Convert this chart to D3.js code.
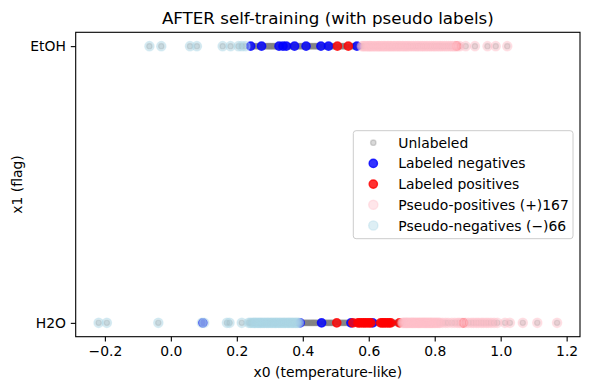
<!DOCTYPE html>
<html><head><meta charset="utf-8">
<script src="https://cdn.jsdelivr.net/npm/d3@7/dist/d3.min.js"></script>
<style>body{margin:0;background:#fff}text{font-family:"DejaVu Sans",sans-serif}</style>
</head><body><svg id="c" width="590" height="390"></svg>
<script>
// ---- data (x0 values per category; flag 1 = EtOH, 0 = H2O) ----
const categories = ["H2O", "EtOH"];
const xTicks = [-0.2, 0.0, 0.2, 0.4, 0.6, 0.8, 1.0, 1.2];

// unlabeled points that stayed unlabeled (uncertain band)
const uncertainEtOH = [0.248,0.251,0.255,0.258,0.262,0.265,0.268,0.272,0.278,0.281,0.284,0.287,0.290,0.293,0.296,0.298,0.301,0.303,0.306,0.309,0.311,0.314,0.317,0.320,0.323,0.333,0.336,0.342,0.345,0.353,0.356,0.359,0.362,0.365,0.368,0.371,0.380,0.383,0.386,0.389,0.392,0.395,0.398,0.401,0.404,0.407,0.413,0.416,0.419,0.421,0.424,0.427,0.430,0.433,0.436,0.438,0.441,0.444,0.447,0.449,0.452,0.462,0.465,0.468,0.471,0.473,0.482,0.485,0.488,0.491,0.494,0.497,0.500,0.511,0.514,0.517,0.520,0.523,0.526,0.529,0.532,0.545,0.548,0.551,0.554,0.557,0.560,0.568,0.571,0.573,0.576];
const uncertainH2O = [0.394,0.396,0.399,0.401,0.404,0.406,0.409,0.411,0.414,0.416,0.419,0.421,0.424,0.426,0.429,0.431,0.434,0.436,0.439,0.441,0.444,0.447,0.450,0.453,0.463,0.466,0.468,0.471,0.474,0.477,0.479,0.482,0.485,0.487,0.490,0.493,0.496,0.499,0.509,0.512,0.515,0.518,0.521,0.524,0.527,0.530,0.533,0.536,0.539,0.542,0.557,0.559,0.562,0.565,0.620,0.623,0.627,0.672,0.675,0.678,0.681,0.684,0.688,0.695,0.698];

const labeledNegEtOH = [0.242,0.275,0.328,0.340,0.350,0.375,0.410,0.455,0.478,0.564];
const labeledNegH2O = [0.097,0.392,0.457,0.546,0.612];
const labeledPosEtOH = [0.505,0.538,0.866];
const labeledPosH2O = [0.503,0.552,0.567,0.572,0.578,0.584,0.589,0.595,0.601,0.606,0.636,0.641,0.646,0.651,0.657,0.662,0.667,0.693,0.887];

const pseudoPosEtOH = [0.579,0.583,0.588,0.592,0.597,0.601,0.604,0.609,0.613,0.618,0.622,0.627,0.631,0.634,0.639,0.644,0.648,0.652,0.657,0.661,0.665,0.670,0.674,0.679,0.683,0.688,0.692,0.697,0.702,0.706,0.711,0.716,0.720,0.725,0.731,0.736,0.742,0.747,0.752,0.758,0.763,0.768,0.774,0.779,0.785,0.790,0.796,0.801,0.807,0.813,0.818,0.824,0.830,0.836,0.842,0.848,0.853,0.859,0.864,0.870,0.876,0.894,0.922,0.960,0.985,1.020];
const pseudoPosH2O = [0.702,0.705,0.708,0.711,0.714,0.716,0.719,0.722,0.725,0.728,0.731,0.733,0.736,0.739,0.742,0.745,0.748,0.751,0.753,0.756,0.759,0.762,0.765,0.768,0.771,0.774,0.777,0.780,0.783,0.786,0.789,0.792,0.795,0.799,0.802,0.806,0.809,0.813,0.816,0.824,0.833,0.841,0.852,0.861,0.870,0.876,0.884,0.893,0.902,0.911,0.918,0.926,0.933,0.941,0.948,0.956,0.963,0.971,0.980,0.990,1.013,1.028,1.067,1.111,1.171];
const pseudoNegEtOH = [-0.065,-0.029,0.058,0.079,0.157,0.181,0.205,0.215,0.226];
const pseudoNegH2O = [-0.219,-0.194,-0.038,0.094,0.101,0.170,0.178,0.215,0.236,0.241,0.246,0.250,0.254,0.258,0.262,0.266,0.270,0.273,0.277,0.281,0.285,0.289,0.293,0.297,0.301,0.305,0.309,0.313,0.317,0.321,0.325,0.329,0.333,0.337,0.341,0.345,0.349,0.353,0.357,0.361,0.365,0.369,0.373,0.377,0.381,0.385,0.389];

const seriesNames = ["Unlabeled","Labeled negatives","Labeled positives","Pseudo-positives (+)167","Pseudo-negatives (\u2212)66"];

// ---- build point sets ----
const pts = (arr, flag) => arr.map(v => ({x: v, y: flag}));
const unlabeled = [].concat(pts(uncertainEtOH,1), pts(pseudoPosEtOH,1), pts(pseudoNegEtOH,1),
                            pts(uncertainH2O,0), pts(pseudoPosH2O,0), pts(pseudoNegH2O,0));
const series = [
  {name: seriesNames[0], data: unlabeled, color: "gray", alpha: 0.3, r: 2.7},
  {name: seriesNames[1], data: pts(labeledNegEtOH,1).concat(pts(labeledNegH2O,0)), color: "blue", alpha: 0.8, r: 4.17},
  {name: seriesNames[2], data: pts(labeledPosEtOH,1).concat(pts(labeledPosH2O,0)), color: "red", alpha: 0.8, r: 4.17},
  {name: seriesNames[3], data: pts(pseudoPosEtOH,1).concat(pts(pseudoPosH2O,0)), color: "pink", alpha: 0.4, r: 4.6},
  {name: seriesNames[4], data: pts(pseudoNegEtOH,1).concat(pts(pseudoNegH2O,0)), color: "lightblue", alpha: 0.4, r: 4.6}
];

// ---- layout ----
const L = 75.7, R = 580, T = 32.3, B = 336.7;
const allX = unlabeled.map(d => d.x).concat(series[1].data.map(d=>d.x), series[2].data.map(d=>d.x));
const xmin = d3.min(allX), xmax = d3.max(allX), pad = (xmax - xmin) * 0.05;
const x = d3.scaleLinear().domain([xmin - pad, xmax + pad]).range([L, R]);
const y = d3.scaleLinear().domain([-0.05, 1.05]).range([B, T]);

const svg = d3.select("#c");
const g = svg.append("g");

series.forEach(s => {
  g.append("g").selectAll("circle").data(s.data).join("circle")
    .attr("cx", d => x(d.x)).attr("cy", d => y(d.y)).attr("r", s.r)
    .attr("fill", s.color).attr("fill-opacity", s.alpha)
    .attr("stroke", s.color).attr("stroke-opacity", s.alpha).attr("stroke-width", 1.4);
});

// spines
svg.append("rect").attr("x", L).attr("y", T).attr("width", R - L).attr("height", B - T)
  .attr("fill", "none").attr("stroke", "#000").attr("stroke-width", 1.1);

// axes
const xa = svg.append("g").attr("transform", `translate(0,${B})`)
  .call(d3.axisBottom(x).tickValues(xTicks).tickFormat(d3.format(".1f")).tickSize(4.9).tickSizeOuter(0).tickPadding(4.9));
const ya = svg.append("g").attr("transform", `translate(${L},0)`)
  .call(d3.axisLeft(y).tickValues([0, 1]).tickFormat(d => categories[d]).tickSize(4.9).tickSizeOuter(0).tickPadding(4.9));
[xa, ya].forEach(a => {
  a.select(".domain").remove();
  a.selectAll(".tick line").attr("stroke", "#000").attr("stroke-width", 1.1);
  a.selectAll(".tick text").attr("fill", "#000").style("font-size", "13.9px").style("font-family", "DejaVu Sans");
});

// title & labels
svg.append("text").attr("x", (L + R) / 2).attr("y", 24).attr("text-anchor", "middle")
  .style("font-size", "16.7px").text("AFTER self-training (with pseudo labels)");
svg.append("text").attr("x", (L + R) / 2).attr("y", 377).attr("text-anchor", "middle")
  .style("font-size", "13.9px").text("x0 (temperature-like)");
svg.append("text").attr("transform", `translate(22,${(T + B) / 2}) rotate(-90)`).attr("text-anchor", "middle")
  .style("font-size", "13.9px").text("x1 (flag)");

// legend
const lg = svg.append("g");
lg.append("rect").attr("x", 353.3).attr("y", 130.7).attr("width", 219.7).attr("height", 108)
  .attr("rx", 2.8).attr("fill", "#fff").attr("fill-opacity", 0.8).attr("stroke", "#ccc").attr("stroke-width", 1);
series.forEach((s, i) => {
  const cy = 142.7 + i * 20.7;
  lg.append("circle").attr("cx", 373.3).attr("cy", cy).attr("r", s.r)
    .attr("fill", s.color).attr("fill-opacity", s.alpha)
    .attr("stroke", s.color).attr("stroke-opacity", s.alpha).attr("stroke-width", 1.4);
  lg.append("text").attr("x", 398.3).attr("y", cy).attr("dy", "0.36em")
    .style("font-size", "13.9px").text(s.name);
});
</script></body></html>
